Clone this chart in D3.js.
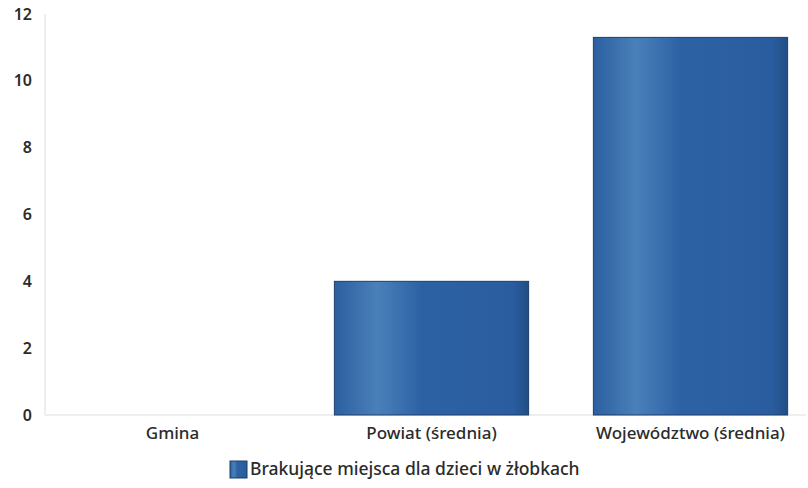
<!DOCTYPE html>
<html>
<head>
<meta charset="utf-8">
<script src="https://cdn.jsdelivr.net/npm/d3@7"></script>
<style>
  body { margin: 0; background: #fff; }
  text { font-family: "Noto Sans", sans-serif; fill: #2b2b2b; }
</style>
</head>
<body>
<div id="chart"></div>
<script>
// Chart data
var categories = ["Gmina", "Powiat (średnia)", "Województwo (średnia)"];
var values = [0, 4, 11.3];
var yTicks = [0, 2, 4, 6, 8, 10, 12];
var seriesName = "Brakujące miejsca dla dzieci w żłobkach";

var width = 808, height = 488;

var svg = d3.select("#chart").append("svg")
    .attr("width", width)
    .attr("height", height);

// Bar gradient (light stripe on the left, darker edges)
var defs = svg.append("defs");
var grad = defs.append("linearGradient").attr("id", "barGrad")
    .attr("x1", "0%").attr("x2", "100%").attr("y1", "0%").attr("y2", "0%");
grad.append("stop").attr("offset", "0%").attr("stop-color", "#2b5f9f");
grad.append("stop").attr("offset", "22%").attr("stop-color", "#4a80b9");
grad.append("stop").attr("offset", "45%").attr("stop-color", "#2c62a4");
grad.append("stop").attr("offset", "92%").attr("stop-color", "#2a5d9f");
grad.append("stop").attr("offset", "100%").attr("stop-color", "#214d85");

var x = d3.scaleBand()
    .domain(categories)
    .range([43, 820])
    .paddingInner(0.25)
    .paddingOuter(0.125);

var y = d3.scaleLinear()
    .domain([0, 12])
    .range([415, 14]);

// Axis lines
svg.append("line")
    .attr("x1", 45).attr("x2", 45)
    .attr("y1", y(12)).attr("y2", y(0))
    .attr("stroke", "#eeeeee").attr("stroke-width", 2);
svg.append("line")
    .attr("x1", 45).attr("x2", 806)
    .attr("y1", y(0)).attr("y2", y(0))
    .attr("stroke", "#eeeeee").attr("stroke-width", 2);

// Y tick labels
var yAxis = svg.append("g")
    .attr("transform", "translate(32,0)")
    .call(d3.axisLeft(y).tickValues(yTicks).tickSize(0).tickPadding(0));
yAxis.select(".domain").remove();
yAxis.selectAll("text")
    .style("font-size", "16px")
    .style("font-weight", "600")
    .style("font-family", "'Noto Sans', sans-serif")
    .attr("fill", "#2b2b2b");

// X category labels
var xAxis = svg.append("g")
    .attr("transform", "translate(0," + 427 + ")")
    .call(d3.axisBottom(x).tickSize(0).tickPadding(0));
xAxis.select(".domain").remove();
xAxis.selectAll("text")
    .style("font-size", "17px")
    .style("font-weight", "500")
    .style("font-family", "'Noto Sans', sans-serif")
    .attr("fill", "#2b2b2b");

// Bars
svg.selectAll(".bar")
    .data(values)
    .join("rect")
    .attr("class", "bar")
    .attr("x", (d, i) => x(categories[i]))
    .attr("width", x.bandwidth())
    .attr("y", d => y(d))
    .attr("height", d => y(0) - y(d))
    .attr("fill", "url(#barGrad)")
    .attr("stroke", d => d > 0 ? "#1c3f6b" : "none")
    .attr("stroke-width", 1);

// Legend
var legend = svg.append("g").attr("transform", "translate(230,461)");
legend.append("rect")
    .attr("width", 17).attr("height", 17)
    .attr("fill", "url(#barGrad)")
    .attr("stroke", "#1c3f6b");
legend.append("text")
    .attr("x", 20).attr("y", 14)
    .style("font-size", "17.5px")
    .style("font-weight", "500")
    .text(seriesName);
</script>
</body>
</html>
